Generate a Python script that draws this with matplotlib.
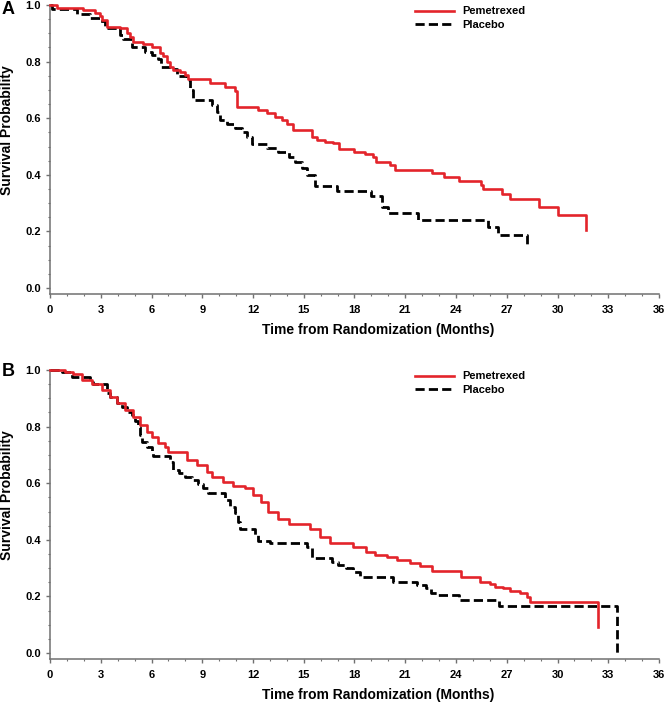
import matplotlib.pyplot as plt
from matplotlib.ticker import FormatStrFormatter, MultipleLocator

plt.rcParams['font.family'] = ['Liberation Sans', 'DejaVu Sans']
plt.rcParams['font.weight'] = 'bold'

# Panel A - Kaplan-Meier steps (time in months, survival after the drop)
a_pem_t = [0, 0.4, 1.95, 2.66, 2.95, 3.1, 3.35, 4.14, 4.55, 4.73, 4.9, 5.5, 6.03, 6.5,
           6.7, 6.9, 7.1, 7.3, 7.7, 8.0, 8.15, 9.46, 10.34, 10.93, 11.05, 12.3, 12.8,
           13.3, 13.7, 14.0, 14.36, 15.5, 15.8, 16.25, 16.7, 17.1, 18.0, 18.6, 19.1,
           19.3, 20.1, 20.4, 22.6, 23.3, 24.2, 25.5, 25.6, 26.7, 27.2, 28.9, 30.0, 31.7]
a_pem_s = [1.0, 0.99, 0.982, 0.973, 0.961, 0.947, 0.924, 0.92, 0.90, 0.886, 0.87, 0.862,
           0.85, 0.832, 0.82, 0.80, 0.782, 0.77, 0.765, 0.753, 0.737, 0.723, 0.709, 0.697,
           0.64, 0.629, 0.618, 0.605, 0.594, 0.58, 0.558, 0.535, 0.523, 0.517, 0.511, 0.49,
           0.482, 0.473, 0.462, 0.446, 0.435, 0.417, 0.405, 0.393, 0.379, 0.364, 0.349,
           0.332, 0.313, 0.287, 0.258, 0.205]
a_pla_t = [0, 0.1, 1.6, 2.36, 2.95, 3.25, 4.14, 4.3, 4.85, 5.6, 6.03, 6.4, 6.56, 7.2, 7.5,
           8.1, 8.27, 8.45, 9.6, 9.87, 10.05, 10.46, 10.93, 11.35, 11.64, 11.94, 12.8, 13.5,
           14.1, 14.5, 14.9, 15.2, 15.66, 16.96, 19.0, 19.6, 20.0, 21.75, 25.9, 26.5, 28.2]
a_pla_s = [1.0, 0.985, 0.968, 0.953, 0.945, 0.917, 0.894, 0.88, 0.85, 0.835, 0.823, 0.808,
           0.782, 0.773, 0.749, 0.735, 0.70, 0.664, 0.647, 0.623, 0.594, 0.58, 0.564, 0.552,
           0.535, 0.509, 0.494, 0.482, 0.464, 0.446, 0.423, 0.40, 0.36, 0.343, 0.325, 0.287,
           0.266, 0.240, 0.217, 0.187, 0.15]

# Panel B
b_pem_t = [0, 0.89, 1.38, 1.87, 2.46, 3.05, 3.55, 3.94, 4.43, 4.92, 5.32, 5.71, 6.0, 6.4,
           6.8, 6.99, 8.08, 8.67, 9.26, 9.56, 10.24, 10.83, 11.52, 12.0, 12.5, 12.9, 13.5,
           14.1, 15.37, 15.96, 16.55, 17.9, 18.7, 19.2, 19.9, 20.5, 21.3, 21.9, 22.6, 24.3,
           25.4, 26.0, 26.3, 26.8, 27.2, 27.8, 28.2, 28.4, 32.4]
b_pem_s = [1.0, 0.994, 0.985, 0.965, 0.949, 0.929, 0.906, 0.882, 0.859, 0.835, 0.806, 0.782,
           0.764, 0.741, 0.729, 0.711, 0.682, 0.664, 0.641, 0.623, 0.605, 0.591, 0.582,
           0.558, 0.535, 0.499, 0.473, 0.455, 0.44, 0.411, 0.388, 0.373, 0.358, 0.346, 0.34,
           0.329, 0.317, 0.307, 0.29, 0.267, 0.252, 0.244, 0.234, 0.229, 0.22, 0.211, 0.199,
           0.181, 0.091]
b_pla_t = [0, 0.69, 1.28, 2.36, 2.55, 3.35, 3.55, 3.94, 4.23, 4.53, 4.82, 5.0, 5.18, 5.32,
           5.46, 5.71, 6.0, 6.1, 7.1, 7.3, 7.6, 7.98, 8.37, 8.77, 9.06, 9.36, 10.34, 10.64,
           10.93, 11.13, 11.23, 12.1, 12.3, 13.0, 15.17, 15.47, 16.65, 17.04, 17.5, 17.9,
           18.3, 20.3, 21.7, 22.2, 22.5, 22.85, 24.2, 26.55, 33.5]
b_pla_s = [1.0, 0.994, 0.976, 0.959, 0.949, 0.918, 0.906, 0.882, 0.87, 0.853, 0.841, 0.82,
           0.80, 0.77, 0.745, 0.729, 0.709, 0.697, 0.676, 0.647, 0.635, 0.623, 0.611, 0.596,
           0.582, 0.567, 0.541, 0.517, 0.494, 0.464, 0.438, 0.417, 0.396, 0.388, 0.376,
           0.335, 0.323, 0.311, 0.299, 0.287, 0.27, 0.252, 0.24, 0.229, 0.211, 0.205, 0.187,
           0.167, 0.0]

RED = '#e3242b'
GRAY = '#707070'


def draw_panel(ax, pem_t, pem_s, pla_t, pla_s):
    ax.step(pem_t, pem_s, where='post', color=RED, lw=1.9, label='Pemetrexed',
            clip_on=False, zorder=3)
    ax.step(pla_t, pla_s, where='post', color='black', lw=2.0, dashes=(3.3, 1.5),
            label='Placebo', clip_on=False, zorder=2)
    ax.set_xlim(0, 36)
    ax.set_ylim(-0.021, 1.0)
    ax.xaxis.set_major_locator(MultipleLocator(3))
    ax.xaxis.set_minor_locator(MultipleLocator(1))
    ax.yaxis.set_major_locator(MultipleLocator(0.2))
    ax.yaxis.set_minor_locator(MultipleLocator(0.05))
    ax.yaxis.set_major_formatter(FormatStrFormatter('%.1f'))
    for side in ['top', 'right']:
        ax.spines[side].set_visible(False)
    for side in ['left', 'bottom']:
        ax.spines[side].set_color(GRAY)
        ax.spines[side].set_linewidth(1.1)
    ax.tick_params(which='major', length=2.6, width=1, color=GRAY, labelsize=8)
    ax.tick_params(which='minor', length=1.6, width=0.8, color=GRAY)
    ax.tick_params(axis='x', which='major', pad=5)
    ax.tick_params(axis='y', which='major', pad=4)
    ax.set_xlabel('Time from Randomization (Months)', fontsize=10, fontweight='bold')
    ax.set_ylabel('Survival Probability', fontsize=10, fontweight='bold')
    ax.xaxis.set_label_coords(0.539, -0.100)
    ax.yaxis.set_label_coords(-0.059, 0.567)
    ax.legend(loc='upper left', bbox_to_anchor=(0.599, 0.995), frameon=False,
              fontsize=8, handlelength=3.5, handletextpad=0.8, labelspacing=0.35,
              borderpad=0, borderaxespad=0)


fig = plt.figure(figsize=(6.66, 7.02), dpi=100)
ax_a = fig.add_axes([50 / 666, 1 - 294 / 702, 609 / 666, 289 / 702])
ax_b = fig.add_axes([50 / 666, 1 - 659 / 702, 609 / 666, 289 / 702])

draw_panel(ax_a, a_pem_t, a_pem_s, a_pla_t, a_pla_s)
draw_panel(ax_b, b_pem_t, b_pem_s, b_pla_t, b_pla_s)

fig.text(2 / 666, 1 - 9 / 702, 'A', fontsize=13, fontweight='bold', va='center', ha='left')
fig.text(2 / 666, 1 - 371 / 702, 'B', fontsize=13, fontweight='bold', va='center', ha='left')

fig.savefig('out.png', dpi=100)
